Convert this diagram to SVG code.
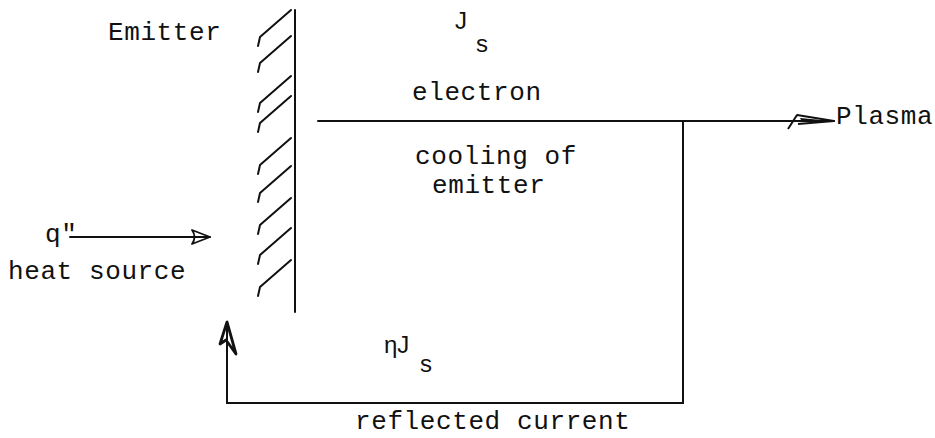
<svg xmlns="http://www.w3.org/2000/svg" width="935" height="438" viewBox="0 0 935 438">
<style>
.t{font-family:"Liberation Mono","Courier New",monospace;font-size:26px;letter-spacing:0.6px;fill:#111}
.s{font-family:"Liberation Sans",Arial,sans-serif;font-size:24px;fill:#111}
.ln{stroke:#111;stroke-width:2;fill:none;stroke-linecap:round}
.h{stroke:#111;stroke-width:2;fill:none;stroke-linecap:round;stroke-linejoin:round}
</style>
<defs>
<marker id="open" markerWidth="24" markerHeight="18" refX="22" refY="9" orient="auto" markerUnits="userSpaceOnUse">
<path d="M4,2 L22,9 L4,16 Q9,9 4,2 Z" fill="none" stroke="#111" stroke-width="1.8" stroke-linejoin="round"/>
</marker>
<marker id="plasma" markerWidth="50" markerHeight="18" refX="48" refY="8" orient="auto" markerUnits="userSpaceOnUse">
<path d="M2,16 L11,2 L48,8 L12,11" fill="none" stroke="#111" stroke-width="2" stroke-linejoin="round"/>
<path d="M14,5 L46,8 L16,9 Z" fill="#111"/>
</marker>
<marker id="up" markerWidth="24" markerHeight="42" refX="9" refY="2" orient="0" markerUnits="userSpaceOnUse">
<path d="M9,2 L2,24 L8,20 L18,34 Z" fill="none" stroke="#111" stroke-width="2.8" stroke-linejoin="round"/>
</marker>
</defs>

<g id="emitter">
<line class="ln" x1="295" y1="10" x2="295" y2="312" stroke-width="2.6"/>
<g class="h">
<path d="M258,46 l2,-9 l31,-27"/>
<path d="M258,72 l2,-9 l31,-27"/>
<path d="M258,112 l2,-9 l31,-27"/>
<path d="M258,132 l2,-9 l31,-27"/>
<path d="M258,174 l2,-9 l31,-27"/>
<path d="M258,202 l2,-9 l31,-27"/>
<path d="M258,234 l2,-9 l31,-27"/>
<path d="M258,264 l2,-9 l31,-27"/>
<path d="M258,296 l2,-9 l31,-27"/>
</g>
<text class="t" x="108" y="40">Emitter</text>
</g>

<g id="heat-source">
<text class="t" x="45" y="242">q"</text>
<text class="t" x="8" y="279">heat source</text>
</g>

<g id="plasma">
<text class="t" x="836" y="124">Plasma</text>
</g>

<g id="labels">
<text class="s" x="455" y="29">J</text>
<text class="s" x="476" y="52">s</text>
<text class="t" x="412" y="100">electron</text>
<text class="t" x="415" y="164">cooling of</text>
<text class="t" x="432" y="193">emitter</text>
<text class="s" x="384" y="353">ηJ</text>
<text class="s" x="420" y="372">s</text>
<text class="t" x="355" y="429">reflected current</text>
</g>

<g id="connectors">
<line class="ln" x1="70" y1="237" x2="210" y2="237" marker-end="url(#open)"/>
<line class="ln" x1="318" y1="121" x2="834" y2="121" marker-end="url(#plasma)"/>
<polyline class="ln" points="683,121 683,403 227,403 227,322" marker-end="url(#up)"/>
</g>
</svg>
